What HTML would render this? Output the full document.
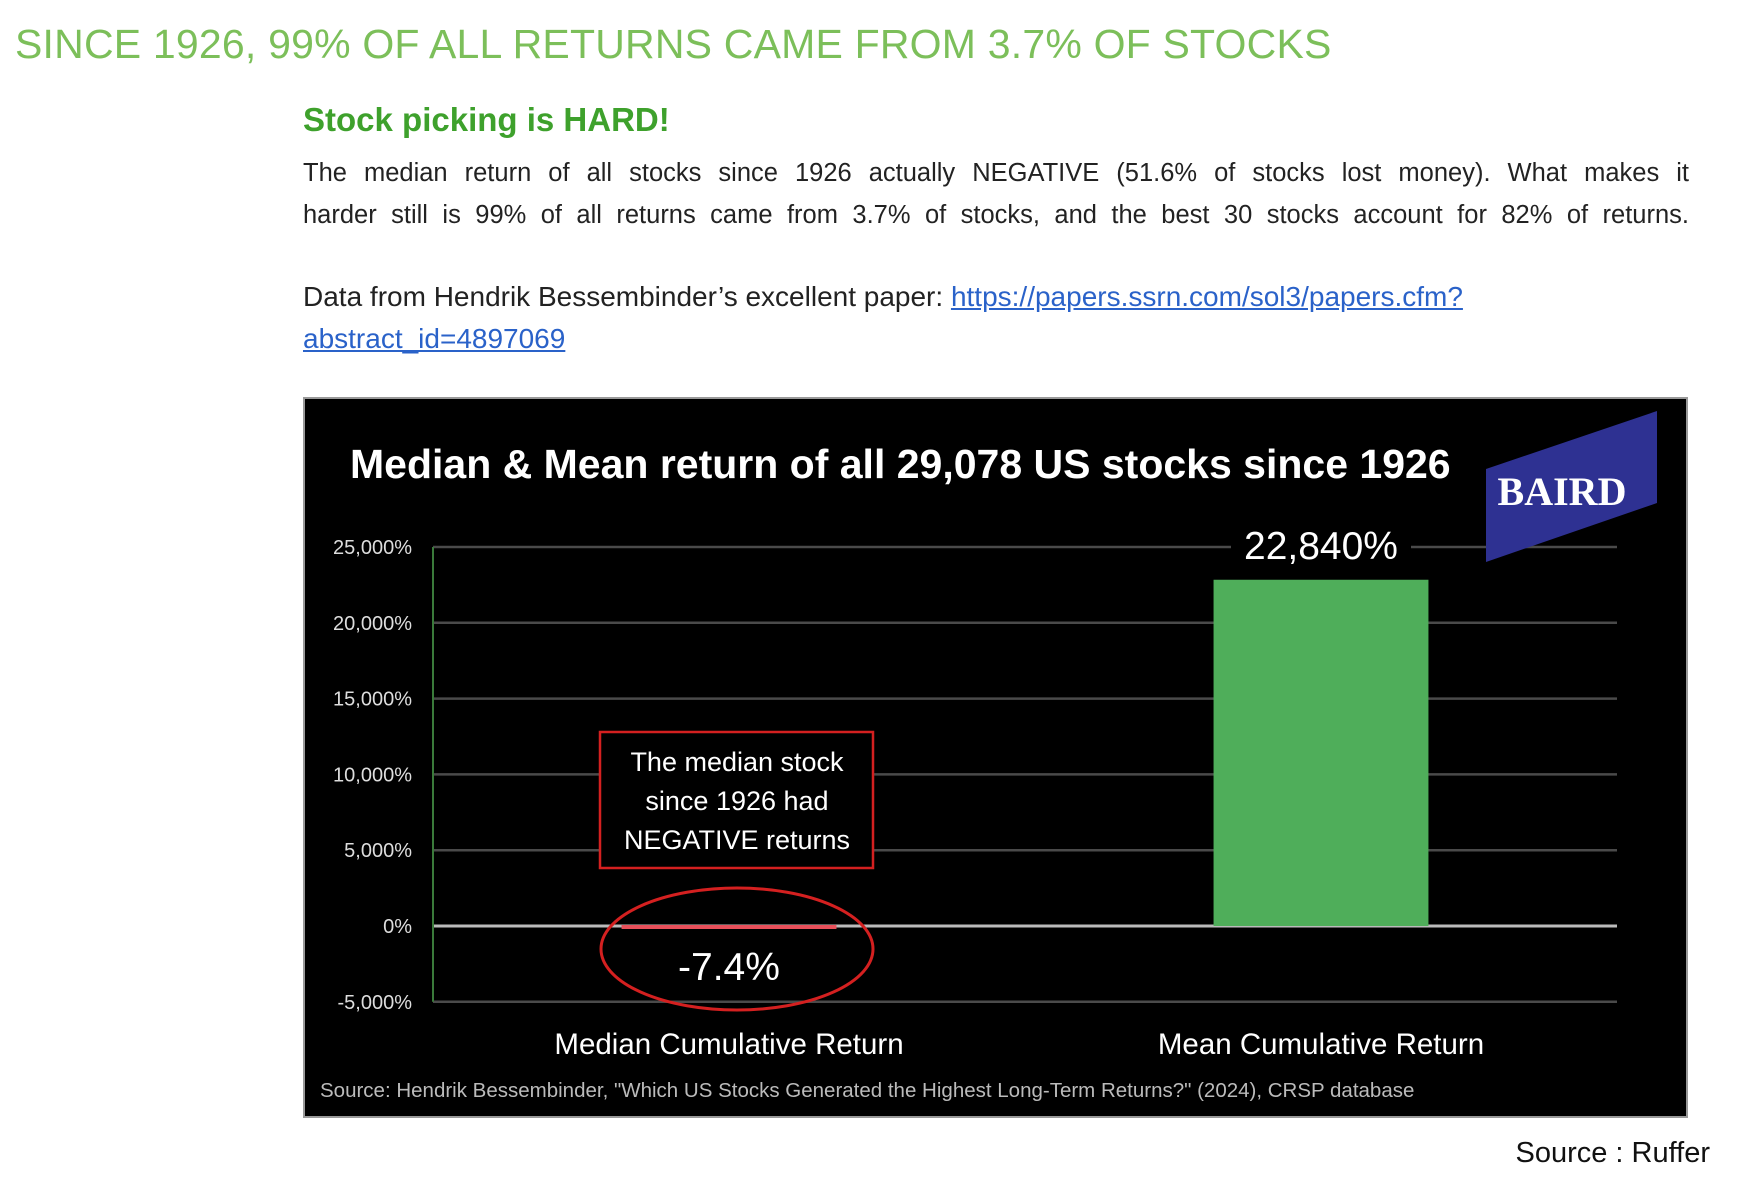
<!DOCTYPE html>
<html><head><meta charset="utf-8"><style>
body{margin:0;width:1752px;height:1184px;background:#fff;position:relative;overflow:hidden;font-family:"Liberation Sans",sans-serif}
.a{position:absolute;white-space:nowrap}
.jl{width:1386px;text-align:justify;text-align-last:justify;white-space:nowrap;overflow:visible}
</style></head><body>
<div class="a" style="left:15px;top:21px;font-size:41px;color:#7cbf5a;letter-spacing:0.2px">SINCE 1926, 99% OF ALL RETURNS CAME FROM 3.7% OF STOCKS</div>
<div class="a" style="left:303px;top:101px;font-size:33px;font-weight:bold;color:#3ea12c">Stock picking is HARD!</div>
<div class="a" style="left:303px;top:152px;font-size:25.5px;line-height:42px;color:#222">
<div class="jl">The median return of all stocks since 1926 actually NEGATIVE (51.6% of stocks lost money). What makes it</div>
<div class="jl">harder still is 99% of all returns came from 3.7% of stocks, and the best 30 stocks account for 82% of returns.</div>
</div>
<div class="a" style="left:303px;top:276px;font-size:28px;line-height:42px;color:#222">Data from Hendrik Bessembinder’s excellent paper: <a style="color:#2a62c9;text-decoration:underline">https://papers.ssrn.com/sol3/papers.cfm?</a><br><a style="color:#2a62c9;text-decoration:underline">abstract_id=4897069</a></div>
<svg class="a" style="left:0;top:0" width="1752" height="1184" id="chart"></svg>
<div class="a" style="right:42px;top:1137px;font-size:29px;color:#111">Source : Ruffer</div>
<script>
const categories=["Median Cumulative Return","Mean Cumulative Return"];
const values=[-7.4,22840];
const valueLabels=["-7.4%","22,840%"];
const ticks=[-5000,0,5000,10000,15000,20000,25000];
const tickLabels=["-5,000%","0%","5,000%","10,000%","15,000%","20,000%","25,000%"];
const NS="http://www.w3.org/2000/svg";
const svg=document.getElementById('chart');
function mk(t,a,p){const e=document.createElementNS(NS,t);for(const k in a)e.setAttribute(k,a[k]);(p||svg).appendChild(e);return e;}
const X0=433,X1=1617,Y0=926,per=75.8/5000;
const y=v=>Y0-v*per;
const band=(X1-X0)/categories.length;
const xc=i=>X0+band*(i+0.5);
let e=mk('rect',{x:304,y:398,width:1383,height:719,fill:'#000',stroke:'#999','stroke-width':2});

e=mk('text',{x:350,y:478,fill:'#fff','font-size':41,'font-weight':'bold','font-family':'Liberation Sans'});e.textContent='Median & Mean return of all 29,078 US stocks since 1926';

ticks.forEach((t,i)=>{
 const g=mk('line',{x1:X0,x2:X1,y1:y(t),y2:y(t),stroke:t===0?'#bbb':'#4a4a4a','stroke-width':t===0?3:2.5});
 
 const l=mk('text',{x:412,y:y(t)+7,fill:'#ddd','font-size':20,'text-anchor':'end','font-family':'Liberation Sans'});l.textContent=tickLabels[i];
 
});
e=mk('line',{x1:X0,x2:X0,y1:y(25000),y2:y(-5000),stroke:'#3a7a3a','stroke-width':2});

e=mk('polygon',{points:'1486,469 1657,411 1657,503 1486,562',fill:'#2e3192'});

e=mk('text',{x:1562,y:505,fill:'#fff','font-size':40,'font-weight':'bold','font-family':'Liberation Serif','text-anchor':'middle'});e.textContent='BAIRD';

const bw=band*0.363;
values.forEach((v,i)=>{
 const top=Math.min(y(v),y(0)),h=Math.max(Math.abs(y(v)-y(0)),4);
 const b=mk('rect',{x:xc(i)-bw/2,y:v<0?y(0)-1:top,width:bw,height:h,fill:v<0?'#e8505a':'#4fae5a'});
 
 const lb=mk('text',{x:xc(i),y:v<0?y(0)+54:y(25000)+12,fill:'#fff','font-size':39,'text-anchor':'middle','font-family':'Liberation Sans'});lb.textContent=valueLabels[i];
 
 if(v>=0){const bg=mk('rect',{x:xc(i)-90,y:y(25000)-22,width:180,height:40,fill:'#000'});svg.insertBefore(bg,lb);}
 const cl=mk('text',{x:xc(i),y:1054,fill:'#fff','font-size':29.5,'text-anchor':'middle','font-family':'Liberation Sans'});cl.textContent=categories[i];
 
});
e=mk('ellipse',{cx:xc(0)+8,cy:y(0)+23,rx:136,ry:61,fill:'none',stroke:'#d42020','stroke-width':3});

e=mk('rect',{x:600,y:732,width:273,height:136,fill:'#000',stroke:'#d42020','stroke-width':2.5});

["The median stock","since 1926 had","NEGATIVE returns"].forEach((s,k)=>{
 const t=mk('text',{x:737,y:771+k*39,fill:'#fff','font-size':27,'text-anchor':'middle','font-family':'Liberation Sans'});t.textContent=s;
 
});
e=mk('text',{x:320,y:1097,fill:'#bbb','font-size':20.5,'font-family':'Liberation Sans'});e.textContent='Source: Hendrik Bessembinder, "Which US Stocks Generated the Highest Long-Term Returns?" (2024), CRSP database';

</script>
</body></html>
